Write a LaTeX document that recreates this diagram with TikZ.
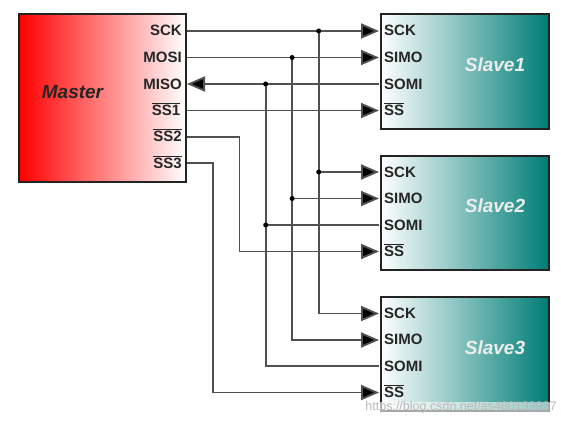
\documentclass[tikz,border=0pt]{standalone}
\usepackage{fontspec}
\setmainfont{Liberation Sans}
\usetikzlibrary{arrows.meta,shadings}
\definecolor{wirec}{RGB}{80,80,80}
\definecolor{tealc}{RGB}{0,125,118}
\definecolor{framec}{RGB}{35,35,35}
\newcommand{\barred}[1]{$\overline{\mbox{#1}}$}
\tikzset{
  box/.style={draw=framec,line width=2pt,anchor=north west,inner sep=0pt},
  masterbox/.style={box,left color=red,right color=white,minimum width=167pt,minimum height=167pt},
  slavebox/.style={box,left color=white,right color=tealc,minimum width=168pt,minimum height=114pt},
  mpin/.style={anchor=base east,inner sep=0pt,font=\fontsize{15}{17}\selectfont\bfseries,text=black!85},
  spin/.style={anchor=base west,inner sep=0pt,font=\fontsize{15}{17}\selectfont\bfseries,text=black!85},
  wire/.style={draw=wirec,line width=1.9pt},
  arrowwire/.style={wire,-{Triangle[length=18pt,width=15pt,fill=black]}},
  dotmark/.style={circle,fill=black,inner sep=0pt,minimum size=5pt},
  mtitle/.style={font=\fontsize{19}{22}\selectfont\bfseries\itshape,text=black!85,inner sep=0pt},
  stitle/.style={font=\fontsize{19}{22}\selectfont\bfseries\itshape,text=white!93!black,inner sep=0pt}
}
\begin{document}
\begin{tikzpicture}[x=1pt,y=-1pt]
\useasboundingbox (0,0) rectangle (561,425);
% boxes
\node[masterbox] (master) at (18,13.5) {};
\node[slavebox] (s1) at (379.5,13.5) {};
\node[slavebox] (s2) at (379.5,154.5) {};
\node[slavebox] (s3) at (379.5,295.5) {};
% master pins
\foreach \n/\y in {a/31,b/57.5,c/84,d/110.5,e/137,f/163}{
  \coordinate (m\n) at (187,\y);
}
% slave pins
\foreach \s/\ya/\yb/\yc/\yd in {1/31/57.5/84/110.5,2/172/198.5/225/251.5,3/313.5/340/366/392.5}{
  \coordinate (s\s a) at (379,\ya);
  \coordinate (s\s b) at (379,\yb);
  \coordinate (s\s c) at (379,\yc);
  \coordinate (s\s d) at (379,\yd);
}
% bus columns
\coordinate (busa) at (318.7,0);
\coordinate (busb) at (292.2,0);
\coordinate (busc) at (265.7,0);
\coordinate (busd) at (239.5,0);
\coordinate (buse) at (213,0);
% first slave wires
\draw[arrowwire] (ma) -- (s1a);
\draw[arrowwire] (mb) -- (s1b);
\draw[arrowwire] (s1c) -- (mc);
\draw[arrowwire] (md) -- (s1d);
% verticals
\draw[arrowwire] (busa |- s1a) -- (busa |- s3a) -- (s3a);
\draw[arrowwire] (busb |- s1b) -- (busb |- s3b) -- (s3b);
\draw[wire] (busc |- s1c) -- (busc |- s3c) -- (s3c);
\draw[arrowwire] (me) -- (busd |- me) -- (busd |- s2d) -- (s2d);
\draw[arrowwire] (mf) -- (buse |- mf) -- (buse |- s3d) -- (s3d);
% second slave
\draw[arrowwire] (busa |- s2a) -- (s2a);
\draw[arrowwire] (busb |- s2b) -- (s2b);
\draw[wire] (busc |- s2c) -- (s2c);
% junction dots
\node[dotmark] (j1) at (busa |- s1a) {};
\node[dotmark] (j2) at (busb |- s1b) {};
\node[dotmark] (j3) at (busc |- s1c) {};
\node[dotmark] (j4) at (busa |- s2a) {};
\node[dotmark] (j5) at (busb |- s2b) {};
\node[dotmark] (j6) at (busc |- s2c) {};
% master labels
\node[mpin] (lma) at (182,36) {SCK};
\node[mpin] (lmb) at (182,62.5) {MOSI};
\node[mpin] (lmc) at (182,89) {MISO};
\node[mpin] (lmd) at (180.5,115.5) {\barred{SS1}};
\node[mpin] (lme) at (182,141.5) {\barred{SS2}};
\node[mpin] (lmf) at (182,168) {\barred{SS3}};
\node[mtitle] (tm) at (72.5,92) {Master};
% slave labels
\foreach \s/\base in {1/36,2/177,3/318}{
  \node[spin] (l\s a) at (384,\base) {SCK};
  \node[spin] (l\s b) at (384,\base+26.5) {SIMO};
  \node[spin] (l\s c) at (384,\base+53) {SOMI};
  \node[spin] (l\s d) at (384,\base+79.5) {\barred{SS}};
}
\node[stitle] (t1) at (495,65) {Slave1};
\node[stitle] (t2) at (495,206) {Slave2};
\node[stitle] (t3) at (495,348) {Slave3};
% watermark
\fill[white,opacity=.6] (338,402) rectangle (561,414);
\node[inner sep=0pt,text=gray!55,font=\fontsize{12.5}{14}\selectfont] (wm) at (461,407) {https://blog.csdn.net/as480133937};
\end{tikzpicture}
\end{document}
